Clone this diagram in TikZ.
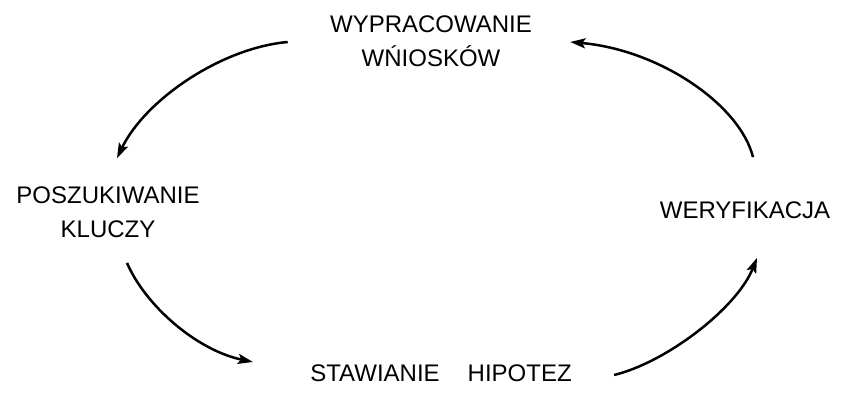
\documentclass[tikz,border=0pt]{standalone}
\usepackage{fontspec}
\setmainfont{Liberation Sans}
\usetikzlibrary{arrows.meta,calc}

\begin{document}
\begin{tikzpicture}[
  x=0.5pt, y=-0.5pt,
  font=\fontsize{12}{17}\selectfont,
  lbl/.style={inner sep=0pt, align=center},
  arr/.style={-{Stealth[length=7.5pt,width=5pt,inset=1.5pt]}, line width=1.25pt}
]
\useasboundingbox (0,0) rectangle (846,401);
% the four stages, clockwise from the top
\node[lbl] (wn) at (431,41) {WYPRACOWANIE\\WŃIOSKÓW};
\node[lbl] (pk) at (108,212) {POSZUKIWANIE\\KLUCZY};
\node[lbl] (st) at (441,373) {STAWIANIE\hspace{14pt}HIPOTEZ};
\node[lbl] (wf) at (745,210) {WERYFIKACJA};
% curved arrows round the cycle
\draw[arr] ($(wn.west)+(-42,1)$) .. controls +(-67,6) and +(28,-58) .. ($(pk.north)+(9,-28)$);
\draw[arr] ($(pk.south)+(19,25)$) .. controls +(18,42) and +(-57,-12) .. ($(st.west)+(-57,-11)$);
\draw[arr] ($(st.east)+(42,2)$) .. controls +(53,-13) and +(-20,50) .. ($(wf.south)+(12,39)$);
\draw[arr] ($(wf.north)+(8,-44)$) .. controls +(-13,-52) and +(90,8) .. ($(wn.east)+(38,1)$);
\end{tikzpicture}
\end{document}
